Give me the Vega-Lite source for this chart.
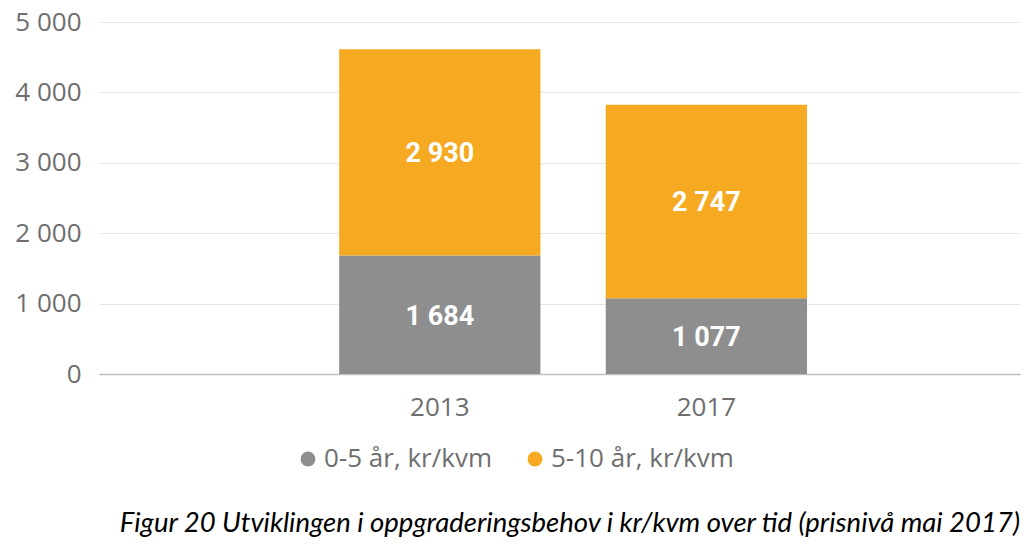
{
  "$schema": "https://vega.github.io/schema/vega-lite/v6.json",
  "width": 921,
  "height": 352,
  "autosize": {"type": "none"},
  "padding": {"left": 99, "top": 22, "right": 4, "bottom": 171},
  "config": {
    "view": {"stroke": null},
    "locale": {"number": {"decimal": ",", "thousands": " ", "grouping": [3], "currency": ["", ""]}}
  },
  "data": {
    "values": [
      {"year": "2013", "series": "0-5 år, kr/kvm", "value": 1684},
      {"year": "2013", "series": "5-10 år, kr/kvm", "value": 2930},
      {"year": "2017", "series": "0-5 år, kr/kvm", "value": 1077},
      {"year": "2017", "series": "5-10 år, kr/kvm", "value": 2747}
    ]
  },
  "transform": [
    {"stack": "value", "groupby": ["year"], "sort": [{"field": "series", "order": "ascending"}], "as": ["v0", "v1"]},
    {"calculate": "(datum.v0 + datum.v1) / 2", "as": "mid"}
  ],
  "title": {
    "text": "Figur 20 Utviklingen i oppgraderingsbehov i kr/kvm over tid (prisnivå mai 2017)",
    "orient": "bottom",
    "anchor": "end",
    "font": "Lato",
    "fontStyle": "italic",
    "fontWeight": "normal",
    "fontSize": 27.5,
    "color": "#000000",
    "offset": 38
  },
  "encoding": {
    "x": {
      "field": "year",
      "type": "nominal",
      "scale": {"paddingInner": 0.245, "paddingOuter": 0.85, "align": 0.53},
      "axis": {
        "title": null,
        "labelAngle": 0,
        "labelFont": "Open Sans",
        "labelFontSize": 26,
        "labelColor": "#6e6e6e",
        "labelPadding": 20,
        "ticks": false,
        "domainColor": "#bfbfbf",
        "domainWidth": 1.5
      }
    }
  },
  "layer": [
    {
      "mark": {"type": "bar"},
      "encoding": {
        "y": {
          "field": "v0",
          "type": "quantitative",
          "scale": {"domain": [0, 5000]},
          "axis": {
            "title": null,
            "values": [0, 1000, 2000, 3000, 4000, 5000],
            "format": ",d",
            "labelFont": "Open Sans",
            "labelFontSize": 26,
            "labelColor": "#6e6e6e",
            "labelPadding": 18,
            "ticks": false,
            "domain": false,
            "gridColor": "#e6e6e6",
            "gridWidth": 1
          }
        },
        "y2": {"field": "v1"},
        "color": {
          "field": "series",
          "type": "nominal",
          "scale": {"domain": ["0-5 år, kr/kvm", "5-10 år, kr/kvm"], "range": ["#8e8e8e", "#f5aa22"]},
          "legend": {
            "title": null,
            "orient": "none",
            "legendX": 196,
            "legendY": 424,
            "direction": "horizontal",
            "symbolType": "circle",
            "symbolSize": 220,
            "symbolStrokeWidth": 0,
            "labelFont": "Open Sans",
            "labelFontSize": 26,
            "labelColor": "#6e6e6e",
            "labelOffset": 3,
            "labelLimit": 0,
            "columnPadding": 30
          }
        }
      }
    },
    {
      "mark": {"type": "text", "color": "#ffffff", "font": "Roboto", "fontWeight": "bold", "fontSize": 27, "baseline": "middle", "dy": 2},
      "encoding": {
        "y": {"field": "mid", "type": "quantitative"},
        "text": {"field": "value", "type": "quantitative", "format": ",d"}
      }
    }
  ]
}
